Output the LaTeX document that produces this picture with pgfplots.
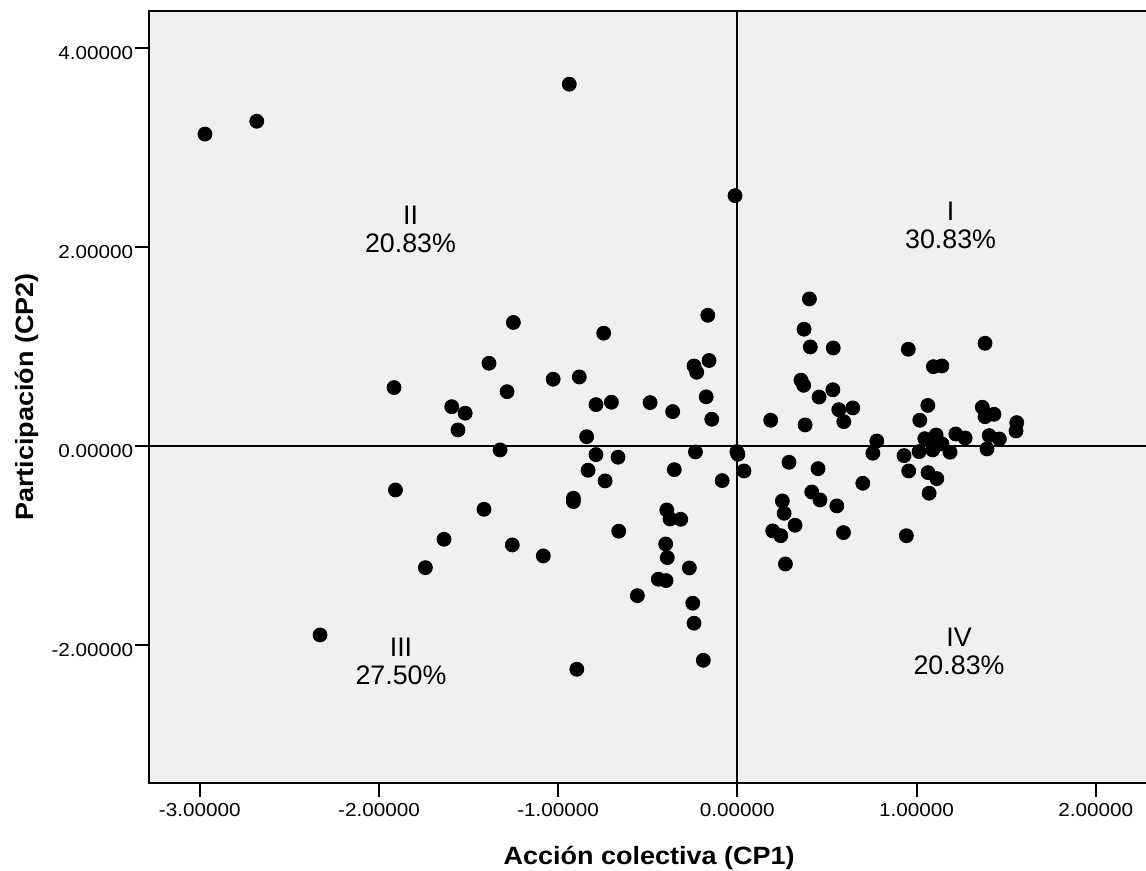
\documentclass[border=0pt]{standalone}
\usepackage{fontspec}
\setmainfont{Liberation Sans}
\newfontfamily\tickfont[FakeStretch=1.1]{Liberation Sans}
\newfontfamily\labfont[FakeStretch=1.08]{Liberation Sans Bold}
\usepackage{pgfplots}
\pgfplotsset{compat=1.18}
\definecolor{bg}{HTML}{F0F0F0}

\pgfplotstableread{
x y
-2.971 3.134
-2.682 3.263
-0.938 3.635
-0.013 2.516
-1.250 1.243
-1.386 0.833
-1.916 0.589
-1.285 0.548
-1.594 0.397
-1.519 0.332
-1.559 0.164
-1.028 0.673
-0.882 0.696
-0.746 1.135
-0.165 1.315
-0.158 0.861
-0.242 0.806
-0.227 0.743
-0.174 0.496
-0.789 0.418
-0.703 0.442
-0.487 0.438
-0.361 0.348
-0.143 0.271
-0.841 0.096
-1.324 -0.037
-0.789 -0.084
-0.666 -0.110
-0.234 -0.057
-0.003 -0.054
-0.833 -0.241
-0.352 -0.235
-0.738 -0.348
-0.085 -0.345
-0.915 -0.522
-0.915 -0.556
-1.414 -0.633
-0.394 -0.640
-0.376 -0.730
-0.316 -0.733
-1.637 -0.934
-0.662 -0.853
-1.256 -0.991
-1.083 -1.101
-0.400 -0.981
-0.391 -1.118
-0.268 -1.222
-0.441 -1.335
-0.398 -1.349
-0.558 -1.500
-0.249 -1.576
-0.242 -1.777
-0.190 -2.149
-0.896 -2.239
-1.908 -0.439
-1.741 -1.219
-2.329 -1.895
0.402 1.479
0.372 1.175
0.407 0.997
0.535 0.987
0.954 0.974
1.382 1.034
1.094 0.799
1.141 0.806
0.355 0.663
0.370 0.612
0.533 0.567
0.456 0.494
0.566 0.367
0.644 0.385
0.594 0.247
0.186 0.261
0.378 0.214
1.063 0.410
1.018 0.261
1.367 0.391
1.382 0.297
1.432 0.321
1.559 0.237
1.555 0.154
0.778 0.053
1.046 0.076
1.109 0.113
1.142 0.023
1.219 0.123
1.271 0.083
1.405 0.107
1.462 0.073
1.080 0.060
1.120 0.045
0.756 -0.070
1.090 -0.037
1.014 -0.054
0.930 -0.094
1.187 -0.060
1.393 -0.027
0.003 -0.080
0.037 -0.248
0.288 -0.161
0.450 -0.225
0.956 -0.248
1.064 -0.265
1.113 -0.325
0.700 -0.372
1.070 -0.472
0.415 -0.459
0.461 -0.539
0.555 -0.599
0.251 -0.549
0.261 -0.673
0.322 -0.793
0.197 -0.850
0.242 -0.898
0.592 -0.867
0.943 -0.898
0.268 -1.182
}\pts

\begin{document}
\begin{tikzpicture}
\begin{axis}[
  at={(0,0)}, anchor=south west,
  x=89.6pt, y=49.8pt,
  xmin=-3.285, xmax=2.30, ymin=-3.384, ymax=4.373,
  axis background/.style={fill=bg},
  axis line style={line width=1pt, black},
  tick style={line width=1pt, black},
  tick align=outside,
  major tick length=6.7pt,
  xtick pos=lower, ytick pos=left,
  xtick={-3,-2,-1,0,1,2},
  xticklabels={-3.00000,-2.00000,-1.00000,0.00000,1.00000,2.00000},
  ytick={-2,0,2,4},
  yticklabels={-2.00000,0.00000,2.00000,4.00000},
  xticklabel style={font=\tickfont\fontsize{9.4}{11}\selectfont},
  yticklabel style={font=\tickfont\fontsize{9.4}{11}\selectfont, yshift=-2.5pt, xshift=2.5pt},
  xlabel={Acción colectiva (CP1)},
  ylabel={Participación (CP2)},
  xlabel style={at={([yshift=-40.85pt]axis description cs:0.5,0)}, anchor=base, font=\labfont\fontsize{12.5}{15}\selectfont},
  ylabel style={at={([xshift=-57.5pt]axis description cs:0,0.5)}, anchor=base, font=\labfont\fontsize{12.5}{15}\selectfont},
]
\addplot[black, line width=1pt] coordinates {(0,-3.384) (0,4.373)};
\addplot[black, line width=1pt] coordinates {(-3.285,0) (2.30,0)};
\addplot[only marks, mark=*, mark size=3.5pt, black, mark options={fill=black, draw=black}] table[x=x, y=y] {\pts};
\node[align=center, font=\fontsize{13.4}{14}\selectfont] at (axis cs:1.19,2.22) {I\\30.83\%};
\node[align=center, font=\fontsize{13.4}{14}\selectfont] at (axis cs:-1.824,2.18) {II\\20.83\%};
\node[align=center, font=\fontsize{13.4}{14}\selectfont] at (axis cs:-1.877,-2.156) {III\\27.50\%};
\node[align=center, font=\fontsize{13.4}{14}\selectfont] at (axis cs:1.237,-2.055) {IV\\20.83\%};
\end{axis}
\pgfresetboundingbox
\useasboundingbox (-74.35pt,-43.85pt) rectangle (498.65pt,391.65pt);
\end{tikzpicture}
\end{document}
